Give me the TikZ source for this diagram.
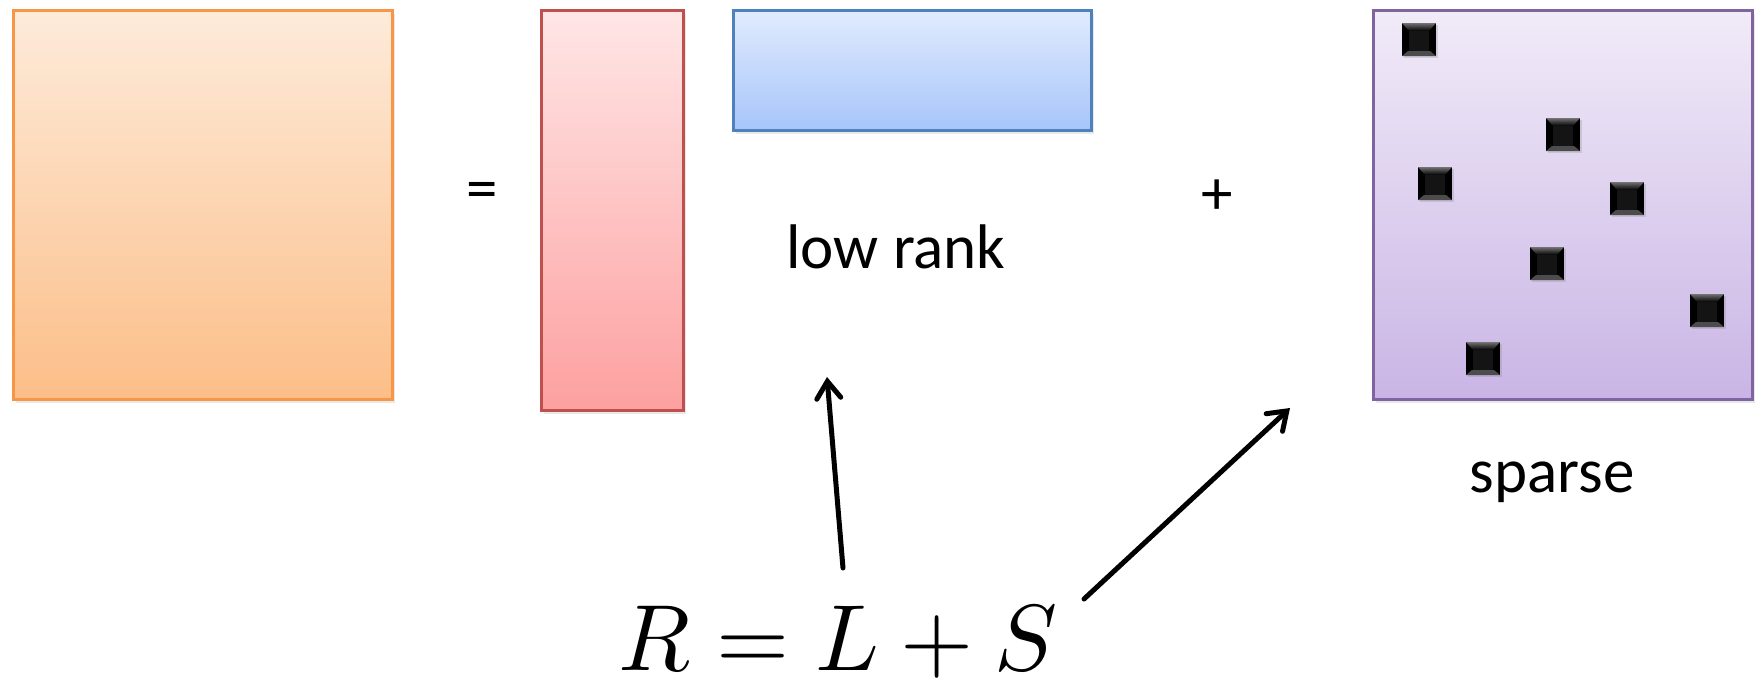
\documentclass[tikz,border=0pt]{standalone}
\usepackage{fontspec}
\newfontfamily\calfont{Carlito}
\usetikzlibrary{arrows.meta,shadows}
\definecolor{orT}{RGB}{253,235,218}
\definecolor{orB}{RGB}{252,190,136}
\definecolor{orD}{RGB}{247,150,70}
\definecolor{rdT}{RGB}{255,230,230}
\definecolor{rdB}{RGB}{253,160,160}
\definecolor{rdD}{RGB}{192,80,77}
\definecolor{blT}{RGB}{225,235,253}
\definecolor{blB}{RGB}{166,197,250}
\definecolor{blD}{RGB}{79,129,189}
\definecolor{puT}{RGB}{241,235,248}
\definecolor{puB}{RGB}{201,181,229}
\definecolor{puD}{RGB}{128,100,162}
\tikzset{
  mat/.style={line width=3pt, inner sep=0pt, anchor=north west,
    drop shadow={opacity=0.18, shadow xshift=2pt, shadow yshift=-3pt}},
  lbl/.style={font=\calfont\fontsize{63}{70}\selectfont, inner sep=0pt},
  arr/.style={line width=5pt, line cap=round,
    -{Straight Barb[length=17pt,width=24pt,line cap=round]}},
  pics/blk/.style={code={
    \fill[black, drop shadow={opacity=0.25, shadow xshift=1.5pt, shadow yshift=-2pt}] (0,0) rectangle (34,33);
    \shade[top color=black!55, bottom color=black] (0,0) -- (34,0) -- (27,8) -- (7,8) -- cycle;
    \fill[black!70] (0,33) -- (34,33) -- (28,28) -- (6,28) -- cycle;
    \fill[black!92] (7,8) rectangle (27,28);
  }}
}
\begin{document}
\begin{tikzpicture}[x=1pt,y=-1pt]
\useasboundingbox (0,0) rectangle (1756,678);
\fill[white] (0,0) rectangle (1756,678);
% matrices
\node[mat, draw=orD, top color=orT, bottom color=orB, minimum width=379pt, minimum height=389pt] (R) at (12,9) {};
\node[mat, draw=rdD, top color=rdT, bottom color=rdB, minimum width=142pt, minimum height=400pt] (U) at (540,9) {};
\node[mat, draw=blD, top color=blT, bottom color=blB, minimum width=358pt, minimum height=120pt] (V) at (732,9) {};
\node[mat, draw=puD, top color=puT, bottom color=puB, minimum width=379pt, minimum height=389pt] (S) at (1372,9) {};
% sparse entries
\pic (s1) at (1402,23) {blk};
\pic (s2) at (1546,118) {blk};
\pic (s3) at (1418,167) {blk};
\pic (s4) at (1610,182) {blk};
\pic (s5) at (1530,247) {blk};
\pic (s6) at (1690,294) {blk};
\pic (s7) at (1466,342) {blk};
% operators and labels
\node[lbl] (eqs) at (482,196) {=};
\node[lbl] (pls) at (1217,197) {+};
\node[lbl, anchor=base] (lr) at (896,268) {low rank};
\node[lbl, anchor=base] (sp) at (1552,492) {sparse};
\node[anchor=base, inner sep=0pt] (eq) at (838,670) {\scalebox{9.4}{$R=L+S$}};
% arrows
\coordinate (t1) at (843,568);
\coordinate (h1) at (827,377);
\coordinate (t2) at (1084,599);
\coordinate (h2) at (1290,408);
\draw[arr] (t1) -- (h1);
\draw[arr] (t2) -- (h2);
\end{tikzpicture}
\end{document}
